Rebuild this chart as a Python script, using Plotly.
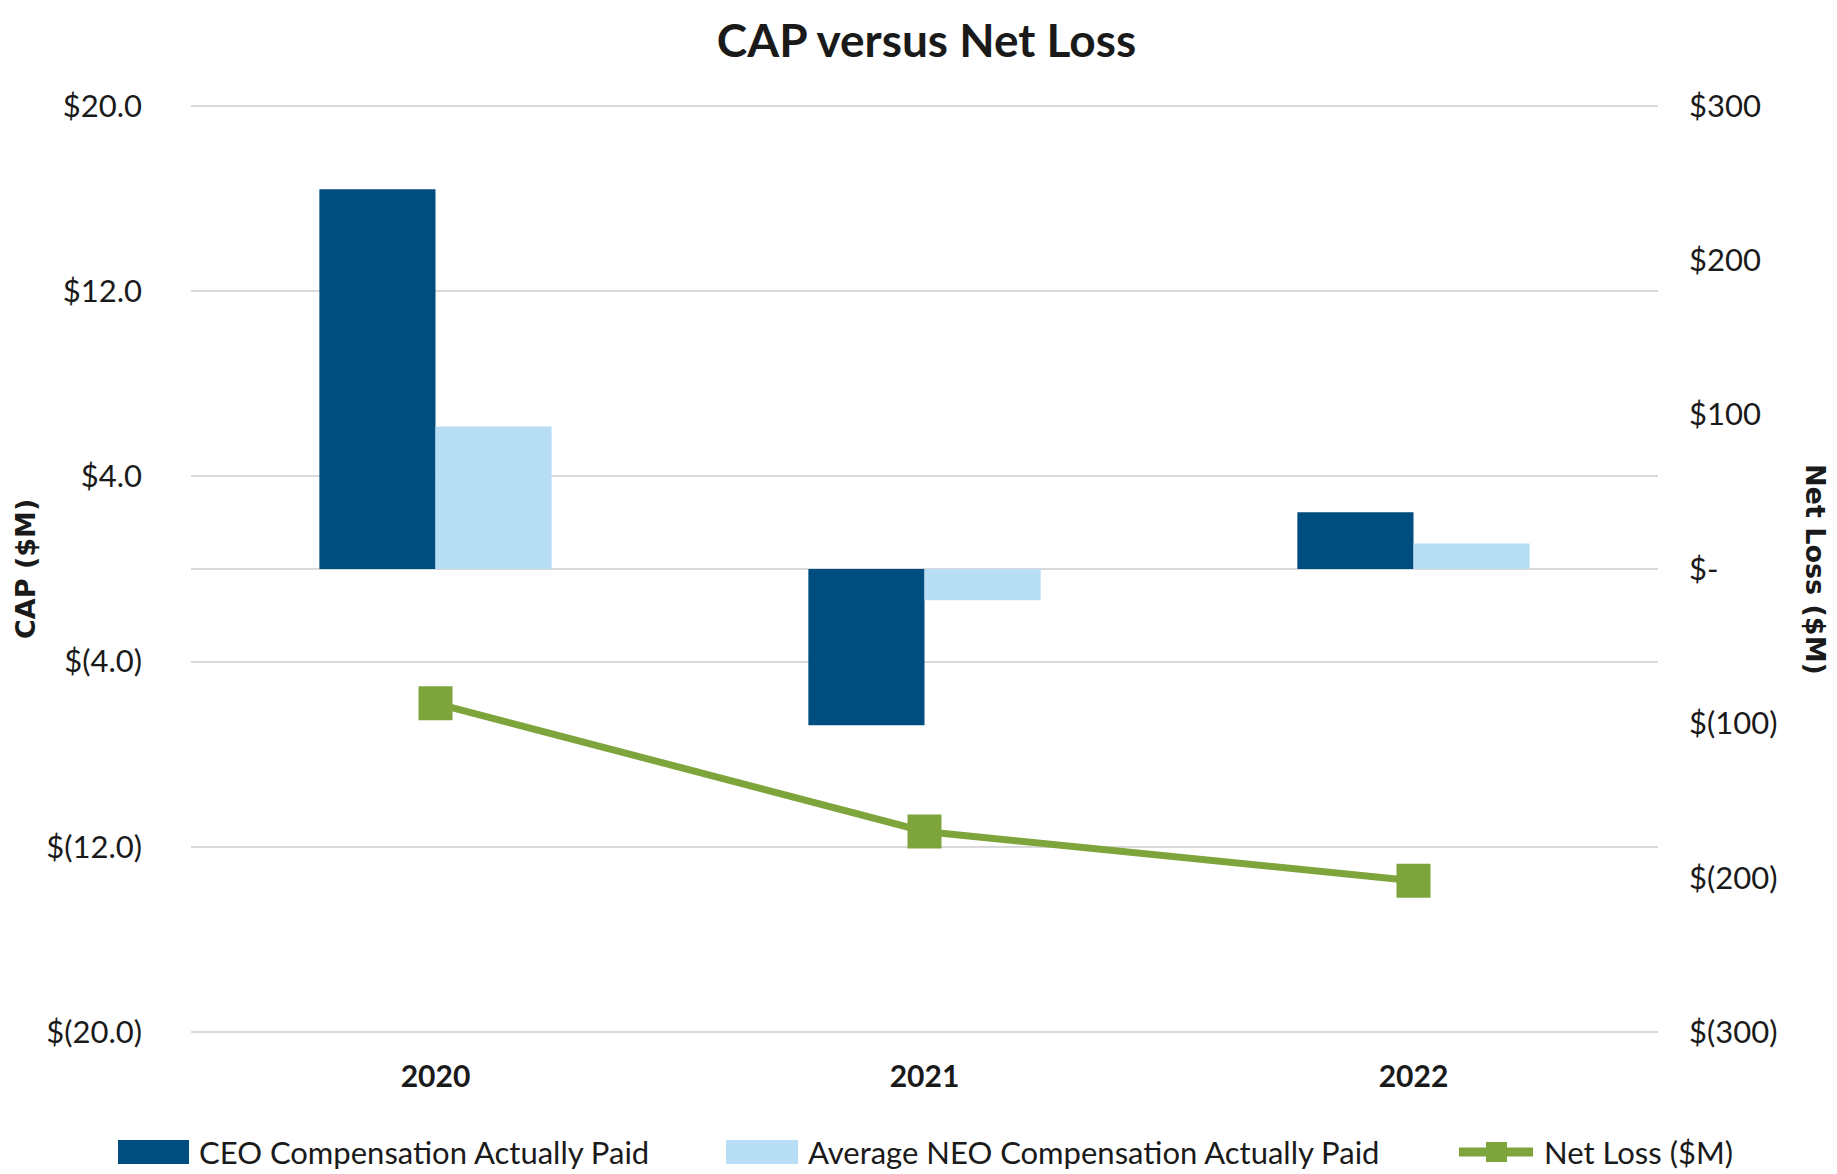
import plotly.graph_objects as go

years = ["2020", "2021", "2022"]
ceo_cap = [16.4, -6.75, 2.45]
neo_cap = [6.15, -1.35, 1.1]
net_loss = [-87, -170, -202]

left_ticks = [-20, -12, -4, 4, 12, 20]
right_ticks = [-300, -200, -100, 0, 100, 200, 300]

names = ["CEO Compensation Actually Paid", "Average NEO Compensation Actually Paid", "Net Loss ($M)"]
colors = ["#004D80", "#B8DEF6", "#7DA53C"]


def fmt_left(v):
    return f"${v:.1f}" if v >= 0 else f"$({abs(v):.1f})"


def fmt_right(v):
    if v == 0:
        return "$-"
    return f"${v}" if v > 0 else f"$({abs(v)})"


W, H = 1837, 1174
L, R, T, B = 183, 187, 96, 148
PW, PH = W - L - R, H - T - B


def px(x):
    return (x - L) / PW


def py(y):
    return (H - B - y) / PH


FONT = "Lato"
TXT = "#1a1a1a"

fig = go.Figure()
fig.add_trace(go.Bar(x=years, y=ceo_cap, name=names[0], showlegend=False,
                     marker=dict(color=colors[0], line=dict(width=0))))
fig.add_trace(go.Bar(x=years, y=neo_cap, name=names[1], showlegend=False,
                     marker=dict(color=colors[1], line=dict(width=0))))
fig.add_trace(go.Scatter(x=years, y=net_loss, name=names[2], yaxis="y2", showlegend=False,
                         mode="lines+markers",
                         line=dict(color=colors[2], width=7),
                         marker=dict(symbol="square", size=34, color=colors[2])))

# custom legend (decoration), figure pixel coordinates
ly = 1144
shapes = [
    dict(type="rect", xref="paper", yref="paper", x0=px(110), x1=px(181),
         y0=py(ly + 12), y1=py(ly - 12), fillcolor=colors[0], line=dict(width=0)),
    dict(type="rect", xref="paper", yref="paper", x0=px(718), x1=px(790),
         y0=py(ly + 12), y1=py(ly - 12), fillcolor=colors[1], line=dict(width=0)),
    dict(type="line", xref="paper", yref="paper", x0=px(1451), x1=px(1525),
         y0=py(ly), y1=py(ly), line=dict(color=colors[2], width=9)),
    dict(type="rect", xref="paper", yref="paper", x0=px(1478), x1=px(1499),
         y0=py(ly + 10), y1=py(ly - 10), fillcolor=colors[2], line=dict(width=0)),
]
leg_text = [(189, names[0]), (798, names[1]), (1534, names[2])]

annotations = [
    dict(text="<b>CAP ($M)</b>", xref="paper", yref="paper", x=px(17), y=0.5,
         xanchor="center", yanchor="middle", textangle=-90, showarrow=False,
         font=dict(family="DejaVu Sans", size=27, color=TXT)),
    dict(text="<b>Net Loss ($M)</b>", xref="paper", yref="paper", x=px(1808), y=0.5,
         xanchor="center", yanchor="middle", textangle=90, showarrow=False,
         font=dict(family="DejaVu Sans", size=27, color=TXT)),
]
for x0, t in leg_text:
    annotations.append(dict(text=t, xref="paper", yref="paper", x=px(x0), y=py(ly),
                            xanchor="left", yanchor="middle", showarrow=False,
                            font=dict(family=FONT, size=31, color=TXT)))

fig.update_layout(
    width=W, height=H,
    margin=dict(l=L, r=R, t=T, b=B),
    paper_bgcolor="white", plot_bgcolor="white",
    barmode="group", bargap=0.525, bargroupgap=0,
    font=dict(family=FONT, size=31, color=TXT),
    title=dict(text="<b>CAP versus Net Loss</b>", x=0.5, xanchor="center",
               y=0.986, yanchor="top", pad=dict(t=0, b=0),
               font=dict(family=FONT, size=46, color=TXT)),
    xaxis=dict(showgrid=False, showline=False, ticks="",
               tickfont=dict(family=FONT, size=30, color=TXT, weight="bold"),
               ticklabelstandoff=22),
    yaxis=dict(range=[-20.08, 20.08], tickvals=left_ticks,
               ticktext=[fmt_left(v) for v in left_ticks],
               showgrid=True, gridcolor="#D9D9D9", gridwidth=2,
               zeroline=True, zerolinecolor="#D9D9D9", zerolinewidth=2,
               showline=False, ticks="", ticklabelstandoff=48,
               tickfont=dict(family=FONT, size=31, color=TXT)),
    yaxis2=dict(range=[-301.2, 301.2], tickvals=right_ticks,
                ticktext=[fmt_right(v) for v in right_ticks],
                overlaying="y", side="right", showgrid=False, zeroline=False,
                showline=False, ticks="", ticklabelstandoff=30,
                tickfont=dict(family=FONT, size=31, color=TXT)),
    shapes=shapes,
    annotations=annotations,
)

fig.write_html("out.html")
